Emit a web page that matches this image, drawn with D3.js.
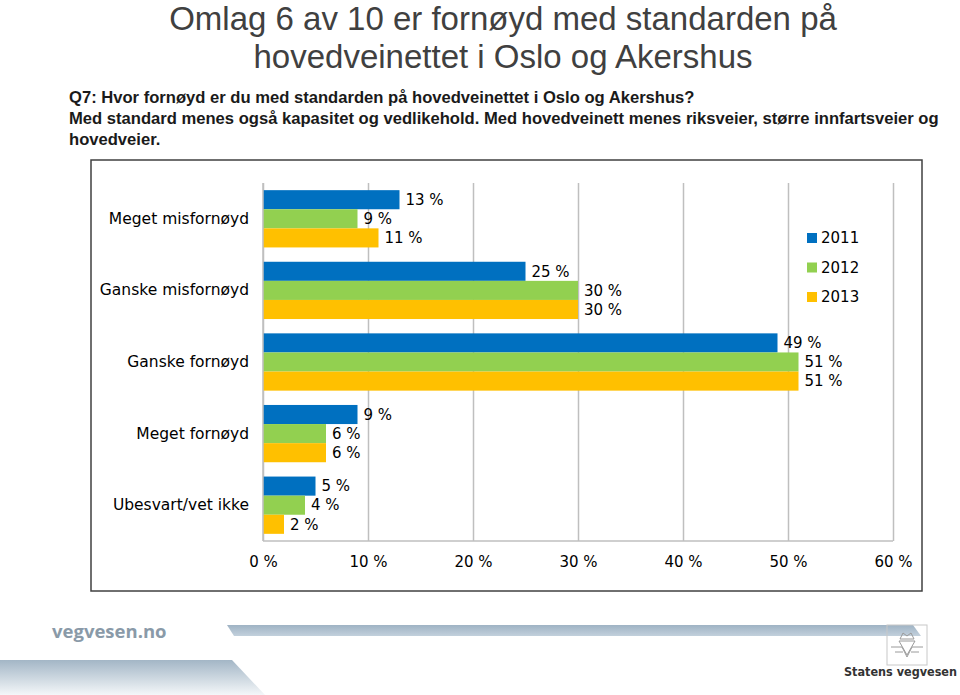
<!DOCTYPE html>
<html><head><meta charset="utf-8">
<script src="https://cdn.jsdelivr.net/npm/d3@7/dist/d3.min.js"></script>
<style>body{margin:0;background:#fff}svg{display:block}</style>
</head><body><svg id="c" width="960" height="695"></svg>
<script>
const categories = ["Meget misfornøyd","Ganske misfornøyd","Ganske fornøyd","Meget fornøyd","Ubesvart/vet ikke"];
const seriesNames = ["2011","2012","2013"];
const values2011 = [13,25,49,9,5];
const values2012 = [9,30,51,6,4];
const values2013 = [11,30,51,6,2];
const xTicks = [0,10,20,30,40,50,60];
const colors = ["#0070C0","#92D050","#FFC000"];
const titleLines = ["Omlag 6 av 10 er fornøyd med standarden på","hovedveinettet i Oslo og Akershus"];
const subLines = ["Q7: Hvor fornøyd er du med standarden på hovedveinettet i Oslo og Akershus?",
 "Med standard menes også kapasitet og vedlikehold. Med hovedveinett menes riksveier, større innfartsveier og",
 "hovedveier."];

const series = [values2011, values2012, values2013];
const svg = d3.select("#c");
const FONT = "'DejaVu Sans', Verdana, sans-serif";

// defs
const defs = svg.append("defs");
const g1 = defs.append("linearGradient").attr("id","stripe").attr("x1",0).attr("x2",0).attr("y1",0).attr("y2",1);
g1.append("stop").attr("offset","0%").attr("stop-color","#9fb3c4");
g1.append("stop").attr("offset","100%").attr("stop-color","#c2d0dc");
const g2 = defs.append("linearGradient").attr("id","band").attr("x1",0).attr("x2",0).attr("y1",0).attr("y2",1);
g2.append("stop").attr("offset","0%").attr("stop-color","#a3b6c6");
g2.append("stop").attr("offset","100%").attr("stop-color","#f4f7f9");

// Title
svg.append("g").selectAll("text").data(titleLines).join("text")
  .attr("x",503).attr("y",(d,i)=>30+i*38).attr("text-anchor","middle")
  .attr("font-family","'Liberation Sans', Arial, sans-serif").attr("font-size",33)
  .attr("fill","#404040").text(d=>d);

svg.append("g").selectAll("text").data(subLines).join("text")
  .attr("x",69).attr("y",(d,i)=>103+i*21)
  .attr("font-family","'Liberation Sans', Arial, sans-serif").attr("font-size",16.6).attr("font-weight","bold")
  .attr("fill","#1a1a1a").text(d=>d);

// Chart box
svg.append("rect").attr("x",91).attr("y",160).attr("width",831).attr("height",431)
  .attr("fill","#fff").attr("stroke","#404040").attr("stroke-width",1.5);

const x = d3.scaleLinear().domain([0,60]).range([263,893]);
const y = d3.scaleBand().domain(categories).range([183,541]).paddingInner(0.2).paddingOuter(0.1);
const ys = d3.scaleBand().domain(seriesNames).range([0,y.bandwidth()]);

// gridlines
const grid = svg.append("g").attr("transform","translate(0,541)")
  .call(d3.axisBottom(x).tickValues(xTicks).tickSize(-(541-183)).tickFormat(""));
grid.select(".domain").remove();
grid.selectAll(".tick line").attr("stroke","#bfbfbf").attr("stroke-width",1.5);
svg.append("line").attr("x1",x(0)).attr("x2",x(60)).attr("y1",541).attr("y2",541).attr("stroke","#bfbfbf").attr("stroke-width",1.5);

// tick labels
const xa = svg.append("g").attr("transform","translate(0,541)")
  .call(d3.axisBottom(x).tickValues(xTicks).tickSize(0).tickPadding(15).tickFormat(d=>d+" %"));
xa.select(".domain").remove();
xa.selectAll("text").attr("font-family",FONT).attr("font-size",15).attr("fill","#000");

// category labels
const ya = svg.append("g").attr("transform","translate(249,0)")
  .call(d3.axisLeft(y).tickSize(0).tickPadding(0));
ya.select(".domain").remove();
ya.selectAll("text").attr("font-family",FONT).attr("font-size",15.5).attr("fill","#000");

// bars
const groups = svg.append("g").selectAll("g").data(categories).join("g")
  .attr("transform",c=>`translate(0,${y(c)})`);
seriesNames.forEach((s,si)=>{
  groups.append("rect")
    .attr("x",x(0)).attr("y",ys(s))
    .attr("width",(c,ci)=>x(series[si][ci])-x(0)).attr("height",ys.bandwidth())
    .attr("fill",colors[si]);
  groups.append("text")
    .attr("x",(c,ci)=>x(series[si][ci])+6).attr("y",ys(s)+ys.bandwidth()/2)
    .attr("dy","0.35em").attr("font-family",FONT).attr("font-size",15).attr("fill","#000")
    .text((c,ci)=>series[si][ci]+" %");
});
// axis left line on top
svg.append("line").attr("x1",x(0)).attr("x2",x(0)).attr("y1",183).attr("y2",541).attr("stroke","#bfbfbf").attr("stroke-width",1.5);

// legend
const lg = svg.append("g").selectAll("g").data(seriesNames).join("g")
  .attr("transform",(d,i)=>`translate(807,${238+i*29.5})`);
lg.append("rect").attr("x",0).attr("y",-5).attr("width",10).attr("height",10).attr("fill",(d,i)=>colors[i]);
lg.append("text").attr("x",14).attr("dy","0.35em").attr("font-family",FONT).attr("font-size",15).attr("fill","#000").text(d=>d);

// footer
svg.append("text").attr("x",52).attr("y",638).attr("font-family","'Open Sans', 'DejaVu Sans', sans-serif").attr("font-weight","bold")
  .attr("font-size",18.5).attr("fill","#8a9aa8").text("vegvesen.no");
svg.append("path").attr("d","M227,625 L913,625 L921,636 L234,636 Z").attr("fill","url(#stripe)");
svg.append("path").attr("d","M0,660 L232,660 L265,695 L0,695 Z").attr("fill","url(#band)");
// logo
const logo = svg.append("g").attr("transform","translate(887,625)").attr("fill","none").attr("stroke","#9a9a9a").attr("stroke-width",1);
logo.append("rect").attr("x",0).attr("y",0).attr("width",40).attr("height",40).attr("stroke","#c8c8c8");
logo.append("path").attr("d","M13,14 L16,8 L20,11 L24,8 L27,14 Z");
logo.append("path").attr("d","M4,22 L15,22 L20,32 L25,22 L36,22 M8,27 L16,27 M24,27 L32,27 M12,16 L28,16 L20,30 Z");
svg.append("text").attr("x",957).attr("y",676).attr("text-anchor","end").attr("font-family","'Liberation Sans Narrow','DejaVu Sans Condensed', sans-serif")
  .attr("font-weight","bold").attr("font-size",12.5).attr("fill","#333").text("Statens vegvesen");
</script></body></html>
